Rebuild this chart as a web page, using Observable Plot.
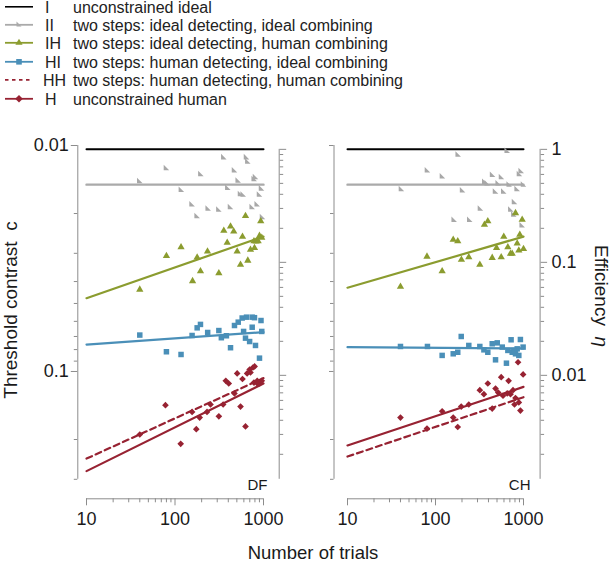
<!DOCTYPE html>
<html><head><meta charset="utf-8">
<script src="https://cdn.jsdelivr.net/npm/d3@7"></script>
<script src="https://cdn.jsdelivr.net/npm/@observablehq/plot@0.6"></script>
<style>
body{margin:0;background:#fff;}
#chart{position:relative;width:612px;height:569px;font-family:"Liberation Sans",Arial,sans-serif;color:#1a1a1a;overflow:hidden;background:#fff}
.abs{position:absolute;white-space:pre;line-height:1}
</style></head><body><div id="chart"></div>
<script>
// ---------- legend ----------
const seriesCodes = ["I", "II", "IH", "HI", "HH", "H"];
const seriesNames = [
  "unconstrained ideal",
  "two steps: ideal detecting, ideal combining",
  "two steps: ideal detecting, human combining",
  "two steps: human detecting, ideal combining",
  "two steps: human detecting, human combining",
  "unconstrained human"
];
const seriesColors = ["#000000", "#aaaaaa", "#8b9c2f", "#4a8fb8", "#972232", "#972232"];

// ---------- axes ----------
const trialRange = [10, 1000];
const xMajor = [10, 100, 1000];
const xMinor = [20, 30, 40, 50, 60, 70, 80, 90, 200, 300, 400, 500, 600, 700, 800, 900];
const contrastDomain = [0.01, 0.3];
const contrastMajor = [0.01, 0.1];
const contrastMinor = [0.02, 0.03, 0.04, 0.05, 0.06, 0.07, 0.08, 0.09, 0.2, 0.3];
const effMajor = [1, 0.1, 0.01];
const effMinor = [0.9, 0.8, 0.7, 0.6, 0.5, 0.4, 0.3, 0.2, 0.09, 0.08, 0.07, 0.06, 0.05, 0.04, 0.03, 0.02,
  0.009, 0.008, 0.007, 0.006, 0.005, 0.004, 0.003, 0.002];
const idealContrast = 0.0104; // efficiency 1

// ---------- DF panel: fitted lines (values at 10 and 1000 trials) ----------
const dfFitI = [0.0104, 0.0104];
const dfFitII = [0.0149, 0.0149];
const dfFitIH = [0.0474, 0.0253];
const dfFitHI = [0.0760, 0.0670];
const dfFitHH = [0.243, 0.107];
const dfFitH = [0.276, 0.113];

// DF panel points: [trials, threshold contrast]
const dfII = [[40,0.0143],[80,0.0125],[118,0.0156],[196,0.0133],[356,0.0112],[643,0.0112],[665,0.0117],[470,0.0128],[518,0.0142],[812,0.0137],[785,0.0140],[395,0.0153],[550,0.0163],[590,0.0164],[901,0.0164],[949,0.0154],[156,0.0181],[237,0.0189],[313,0.0191],[424,0.0186],[178,0.0204],[745,0.0186],[849,0.0181],[975,0.0206]];
const dfIH = [[40,0.0434],[80,0.0308],[117,0.0282],[158,0.0398],[178,0.0313],[194,0.0360],[233,0.0294],[313,0.0367],[356,0.0238],[424,0.0228],[461,0.0240],[389,0.0269],[504,0.0294],[550,0.0337],[579,0.0253],[626,0.0205],[665,0.0323],[713,0.0289],[791,0.0284],[780,0.0265],[824,0.0266],[901,0.0251],[956,0.0256],[931,0.0216],[870,0.0265]];
const dfHI = [[40,0.0690],[80,0.0818],[117,0.0841],[156,0.0693],[178,0.0641],[194,0.0619],[234,0.0672],[313,0.0659],[334,0.0709],[381,0.0695],[424,0.0785],[470,0.0626],[518,0.0605],[574,0.0580],[643,0.0575],[745,0.0575],[791,0.0578],[937,0.0595],[596,0.0665],[626,0.0712],[745,0.0637],[697,0.0737],[812,0.0767],[956,0.0665],[901,0.0873]];
const dfH = [[40,0.190],[78,0.141],[116,0.209],[156,0.151],[174,0.180],[190,0.160],[230,0.151],[252,0.140],[313,0.158],[350,0.140],[375,0.110],[405,0.113],[470,0.125],[504,0.102],[550,0.143],[579,0.108],[626,0.175],[653,0.102],[697,0.098],[760,0.096],[794,0.095],[780,0.112],[849,0.110],[906,0.113],[956,0.110],[849,0.113],[713,0.101]];

// ---------- CH panel ----------
const chFitI = [0.0104, 0.0104];
const chFitII = [0.0149, 0.0149];
const chFitIH = [0.0426, 0.0253];
const chFitHI = [0.0781, 0.0791];
const chFitHH = [0.238, 0.130];
const chFitH = [0.2125, 0.117];

const chII = [[41,0.0155],[81,0.0128],[120,0.0136],[181,0.0109],[203,0.0157],[653,0.0105],[363,0.0144],[387,0.0146],[445,0.0134],[562,0.0137],[516,0.0146],[481,0.0159],[597,0.0159],[688,0.0148],[847,0.0155],[900,0.0133],[942,0.0129],[1000,0.0148],[790,0.0177],[718,0.0191],[324,0.0189],[245,0.0212],[163,0.0212],[776,0.0201],[966,0.0224]];
const chIH = [[40,0.0421],[80,0.0310],[119,0.0360],[159,0.0261],[179,0.0265],[197,0.0320],[239,0.0312],[319,0.0337],[360,0.0224],[393,0.0216],[441,0.0314],[494,0.0284],[558,0.0312],[597,0.0253],[664,0.0282],[712,0.0301],[744,0.0301],[811,0.0199],[848,0.0271],[908,0.0248],[885,0.0291],[966,0.0213],[1000,0.0287]];
const chHI = [[40,0.0775],[81,0.0775],[119,0.0849],[159,0.0835],[179,0.0822],[196,0.0700],[239,0.0767],[319,0.0775],[355,0.0802],[393,0.0822],[441,0.0754],[481,0.0888],[503,0.0747],[574,0.0780],[640,0.0919],[723,0.0724],[922,0.0722],[664,0.0807],[744,0.0822],[811,0.0835],[885,0.0849],[848,0.0794],[990,0.0780],[777,0.0807]];
const chH = [[40,0.160],[80,0.179],[119,0.150],[159,0.160],[179,0.176],[196,0.143],[239,0.140],[319,0.121],[355,0.126],[393,0.113],[441,0.146],[481,0.119],[516,0.124],[558,0.106],[585,0.128],[677,0.110],[712,0.126],[760,0.121],[811,0.131],[867,0.091],[922,0.149],[990,0.103],[885,0.137],[790,0.140],[653,0.125]];

// ---------- drawing ----------
const root = document.getElementById("chart");
const FONT = '"Liberation Sans", Arial, sans-serif';
const AXIS = "#8c8c8c";
const TEXT = "#1a1a1a";

// half triangle marker (right angle at bottom-left)
const halfTri = {draw(ctx, size) { const h = Math.sqrt(2 * size) / 2; ctx.moveTo(-h, -h); ctx.lineTo(h, h); ctx.lineTo(-h, h); ctx.closePath(); }};

// legend
const legendMarkers = [
  "",
  '<path d="M16.5,5.5 L21.5,10.5 L16.5,10.5 Z" fill="#aaaaaa"/>',
  '<path d="M19,4.8 L22.6,10.8 L15.4,10.8 Z" fill="#8b9c2f"/>',
  '<rect x="16.2" y="6" width="5.6" height="5.6" fill="#4a8fb8"/>',
  "",
  '<path d="M19,5 L22.8,8.8 L19,12.6 L15.2,8.8 Z" fill="#972232"/>'
];
seriesCodes.forEach((code, i) => {
  const top = [-2, 16, 34, 53, 71, 90][i];
  const row = document.createElement("div");
  row.className = "abs";
  row.style.cssText = `left:0;top:${top}px;width:420px;height:18px;font-size:16px;color:#222;`;
  const dash = code === "HH" ? ' stroke-dasharray="3.5,3.5"' : "";
  row.innerHTML =
    `<svg width="40" height="18" style="position:absolute;left:0;top:0"><line x1="5" x2="33" y1="8.8" y2="8.8" stroke="${seriesColors[i]}" stroke-width="${i === 0 ? 1.6 : 1.8}"${dash}/>${legendMarkers[i]}</svg>` +
    `<span class="abs" style="left:${code === "HH" ? 43 : 45}px;top:1.5px">${code}</span>` +
    `<span class="abs" style="left:73px;top:1.5px">${seriesNames[i]}</span>`;
  root.appendChild(row);
});

function fitLine(fit) { return trialRange.map((n, i) => ({n, c: fit[i]})); }

function panel(o) {
  const effC = e => idealContrast / Math.sqrt(e);
  const effFmt = c => d3.format("~g")(+((idealContrast / c) ** 2).toPrecision(2));
  const lineMarks = (fit, color, w, dash) => Plot.line(fitLine(fit), {x: "n", y: "c", stroke: color, strokeWidth: w, strokeDasharray: dash});
  const dotMarks = (pts, color, symbol, r) => Plot.dot(pts, {x: d => d[0], y: d => d[1], symbol, r, fill: color, stroke: "none"});
  return Plot.plot({
    width: 306, height: 420,
    marginLeft: o.ml, marginRight: o.mr, marginTop: 25, marginBottom: 61.2,
    x: {type: "log", domain: trialRange, label: null},
    y: {type: "log", domain: contrastDomain, reverse: true, label: null},
    style: {fontFamily: FONT, fontSize: "18px", background: "transparent", overflow: "visible", color: TEXT},
    marks: [
      // axis lines
      Plot.ruleX([10], {y1: contrastDomain[0], y2: contrastDomain[1], dx: -o.lgap, stroke: AXIS}),
      Plot.ruleX([1000], {y1: idealContrast, y2: contrastDomain[1], dx: o.rgap, stroke: AXIS}),
      Plot.ruleY([contrastDomain[1]], {x1: trialRange[0], x2: trialRange[1], dy: 19.5, stroke: AXIS}),
      // contrast axis (left)
      Plot.axisY({ticks: contrastMajor, anchor: "left", dx: -o.lgap, tickSize: o.leftLabels ? 6.5 : 4.5, tickPadding: 2.5,
        tickFormat: d3.format("~g"), stroke: AXIS, fill: o.leftLabels ? TEXT : "none", fontSize: 18, label: null}),
      Plot.axisY({ticks: contrastMinor, anchor: "left", dx: -o.lgap, tickSize: 3.5, fill: "none", stroke: AXIS, label: null}),
      // efficiency axis (right)
      Plot.axisY({ticks: effMajor.map(effC), anchor: "right", dx: o.rgap, tickSize: 6.5, tickPadding: 5,
        tickFormat: effFmt, stroke: AXIS, fill: o.rightLabels ? TEXT : "none", fontSize: 18, label: null}),
      Plot.axisY({ticks: effMinor.map(effC), anchor: "right", dx: o.rgap, tickSize: 3.5, fill: "none", stroke: AXIS, label: null}),
      // trials axis
      Plot.axisX({ticks: xMajor, anchor: "bottom", dy: 19.5, tickSize: 7, tickPadding: 6, tickFormat: d3.format("d"),
        stroke: AXIS, fill: TEXT, fontSize: 18, label: null}),
      Plot.axisX({ticks: xMinor, anchor: "bottom", dy: 19.5, tickSize: 4, fill: "none", stroke: AXIS, label: null}),
      // data
      lineMarks(o.fitI, seriesColors[0], 2),
      lineMarks(o.fitII, seriesColors[1], 2.4),
      dotMarks(o.II, "#a8a8a8", halfTri, 2.2),
      lineMarks(o.fitIH, seriesColors[2], 2.2),
      dotMarks(o.IH, seriesColors[2], "triangle", 2.7),
      lineMarks(o.fitHI, seriesColors[3], 2.2),
      dotMarks(o.HI, seriesColors[3], "square", 3.1),
      lineMarks(o.fitHH, seriesColors[4], 2.2, "6,4"),
      lineMarks(o.fitH, seriesColors[5], 2.2),
      dotMarks(o.H, seriesColors[5], "diamond2", 3.0),
      Plot.text([o.name], {frameAnchor: "bottom-right", dx: o.nameDx, dy: 11, fontSize: 15, fill: TEXT})
    ]
  });
}

const left = panel({name: "DF", ml: 86, mr: 43, lgap: 8.7, rgap: 15.7, leftLabels: true, rightLabels: false, nameDx: 4,
  fitI: dfFitI, fitII: dfFitII, fitIH: dfFitIH, fitHI: dfFitHI, fitHH: dfFitHH, fitH: dfFitH,
  II: dfII, IH: dfIH, HI: dfHI, H: dfH});
const right = panel({name: "CH", ml: 41, mr: 89, lgap: 13.5, rgap: 16.6, leftLabels: false, rightLabels: true, nameDx: 7,
  fitI: chFitI, fitII: chFitII, fitIH: chFitIH, fitHI: chFitHI, fitHH: chFitHH, fitH: chFitH,
  II: chII, IH: chIH, HI: chHI, H: chH});
left.style.cssText += ";position:absolute;left:0;top:120px;overflow:visible";
right.style.cssText += ";position:absolute;left:306px;top:120px;overflow:visible";
root.appendChild(left);
root.appendChild(right);

// axis titles
function label(text, x, y, rot, html, size) {
  const d = document.createElement("div");
  d.className = "abs";
  d.style.cssText = `left:${x}px;top:${y}px;font-size:${size}px;transform:translate(-50%,-50%) rotate(${rot}deg);`;
  if (html) d.innerHTML = text; else d.textContent = text;
  root.appendChild(d);
}
label("Threshold contrast  c", 10, 310, -90, false, 19);
label('Efficiency  <i>η</i>', 601, 296, 90, true, 19);
label("Number of trials", 313, 553, 0, false, 18.5);
</script></body></html>
